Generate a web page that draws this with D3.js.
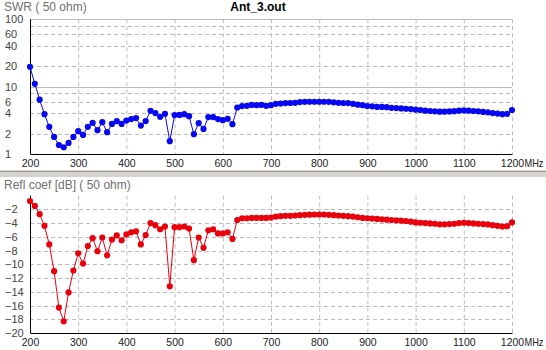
<!DOCTYPE html>
<html><head><meta charset="utf-8">
<script src="https://cdn.jsdelivr.net/npm/d3@7"></script>
<style>
body{margin:0;background:#fff;}
svg{display:block;font-family:"Liberation Sans",Arial,sans-serif;}
</style>
</head><body>
<svg id="c" width="546" height="350"></svg>
<script>
const chartTitle = "Ant_3.out";
const swrTitle = "SWR ( 50 ohm)";
const reflTitle = "Refl coef [dB] ( 50 ohm)";
const unitLabel = "MHz";

const freqMHz = [200,210,220,230,240,250,260,270,280,290,
  300,310,320,330,340,350,360,370,380,390,
  400,410,420,430,440,450,460,470,480,490,
  500,510,520,530,540,550,560,570,580,590,
  600,610,620,630,640,650,660,670,680,690,
  700,710,720,730,740,750,760,770,780,790,
  800,810,820,830,840,850,860,870,880,890,
  900,910,920,930,940,950,960,970,980,990,
  1000,1010,1020,1030,1040,1050,1060,1070,1080,1090,
  1100,1110,1120,1130,1140,1150,1160,1170,1180,1190,1200];

const swr = [19.7,11.0,6.4,3.9,2.53,1.79,1.36,1.26,1.46,1.79,
  2.18,1.92,2.53,2.90,2.26,2.97,2.11,2.80,3.08,2.80,
  3.14,3.30,3.41,2.64,3.08,4.38,4.05,3.57,3.95,1.55,
  3.78,3.80,3.90,3.65,1.97,2.87,2.36,3.53,3.53,3.30,
  3.18,3.33,2.77,4.90,5.15,5.20,5.35,5.30,5.35,5.20,
  5.30,5.55,5.60,5.70,5.72,5.75,5.90,5.95,5.97,5.97,
  5.97,5.97,5.95,5.85,5.75,5.72,5.70,5.55,5.40,5.30,
  5.15,5.10,5.00,5.00,4.95,4.85,4.80,4.75,4.70,4.65,
  4.55,4.50,4.40,4.35,4.30,4.25,4.25,4.28,4.32,4.40,
  4.43,4.40,4.35,4.30,4.22,4.15,4.05,3.98,3.90,3.95,4.50];

const reflDb = [-0.8,-1.5,-2.7,-4.4,-7.1,-11.0,-16.3,-18.3,-14.1,-10.9,
  -8.4,-9.9,-7.35,-6.2,-8.1,-6.1,-8.7,-6.4,-5.8,-6.5,
  -5.65,-5.35,-5.2,-7.1,-5.75,-4.0,-4.3,-4.9,-4.5,-13.2,
  -4.6,-4.6,-4.5,-4.8,-9.4,-6.1,-7.6,-5.05,-4.9,-5.5,
  -5.5,-5.35,-6.3,-3.55,-3.3,-3.3,-3.25,-3.25,-3.25,-3.25,
  -3.2,-3.05,-3.0,-2.95,-2.95,-2.9,-2.85,-2.8,-2.78,-2.75,
  -2.75,-2.75,-2.8,-2.85,-2.9,-2.95,-3.0,-3.05,-3.15,-3.25,
  -3.3,-3.35,-3.4,-3.45,-3.5,-3.55,-3.6,-3.65,-3.7,-3.8,
  -3.9,-3.95,-4.0,-4.05,-4.1,-4.18,-4.18,-4.15,-4.1,-4.0,
  -3.95,-4.0,-4.05,-4.1,-4.15,-4.2,-4.3,-4.4,-4.5,-4.45,-3.9];

const xTicks = [200,300,400,500,600,700,800,900,1000,1100,1200];
const swrTickLabels = [1,2,4,6,10,20,40,60,100];
const swrDashedGrid = [2,4,6,8,20,40,60,80];
const swrSolidGrid = [10,100];
const reflTicks = [-2,-4,-6,-8,-10,-12,-14,-16,-18,-20];

const svg = d3.select("#c");
const W = 546;

const x = d3.scaleLinear().domain([200,1200]).range([30,512]);
const yTop = d3.scaleLog().domain([1,100]).range([154,19.3]);
const yBot = d3.scaleLinear().domain([-20,0]).range([333,195.6]);

const gridColor = "#bcbcbc";
const dash = "4,3";

svg.append("rect").attr("x",0).attr("y",170).attr("width",W).attr("height",7).attr("fill","#d6d3ce");
svg.append("line").attr("x1",0).attr("x2",W).attr("y1",171.5).attr("y2",171.5).attr("stroke","#9a9a9a");

function panel(yScale, yTop0, yBottom, hDashed, hSolid, data, color, yTickVals, yFmt, titleText, titleY) {
  const g = svg.append("g");
  g.selectAll(".vg").data(xTicks.filter(d => d > 200)).join("line")
    .attr("x1", d => x(d) + 0.5).attr("x2", d => x(d) + 0.5)
    .attr("y1", yTop0).attr("y2", yBottom)
    .attr("stroke", gridColor).attr("stroke-dasharray", dash);
  g.selectAll(".hg").data(hDashed).join("line")
    .attr("x1", x(200)).attr("x2", x(1200))
    .attr("y1", d => Math.round(yScale(d)) + 0.5).attr("y2", d => Math.round(yScale(d)) + 0.5)
    .attr("stroke", gridColor).attr("stroke-dasharray", dash);
  g.selectAll(".hs").data(hSolid).join("line")
    .attr("x1", x(200)).attr("x2", x(1200))
    .attr("y1", d => Math.round(yScale(d)) + 0.5).attr("y2", d => Math.round(yScale(d)) + 0.5)
    .attr("stroke", gridColor);

  const ax = g.append("g").attr("transform", `translate(0,${yBottom})`)
    .call(d3.axisBottom(x).tickValues(xTicks).tickSize(0).tickPadding(6).tickFormat(d3.format("d")));
  ax.select(".domain").attr("stroke","#000");
  ax.selectAll("text").attr("font-size", 10.5).attr("fill", "#222")
    .attr("font-family","'Liberation Sans',Arial,sans-serif");
  const ay = g.append("g").attr("transform", `translate(${x(200)},0)`)
    .call(d3.axisLeft(yScale).tickValues(yTickVals).tickSize(0).tickFormat(yFmt));
  ay.select(".domain").remove();
  ay.selectAll("text").attr("x", 5 - x(200)).attr("text-anchor","start")
    .attr("font-size", 11).attr("fill", "#444")
    .attr("font-family","'Liberation Sans',Arial,sans-serif");
  g.append("line").attr("x1", x(200)+0.5).attr("x2", x(200)+0.5)
    .attr("y1", yTop0).attr("y2", yBottom).attr("stroke","#000");

  g.append("text").attr("x", x(1200) + 12.5).attr("y", yBottom + 6).attr("dy","0.71em")
    .attr("font-size", 10.5).attr("fill","#222")
    .attr("textLength", 19).attr("lengthAdjust","spacingAndGlyphs").text(unitLabel);

  g.append("text").attr("x", 4).attr("y", titleY).attr("font-size", 12)
    .attr("fill", "#707070").text(titleText);

  const pts = freqMHz.map((f,i) => [f, data[i]]);
  g.append("path").datum(pts)
    .attr("d", d3.line().x(d => x(d[0])).y(d => yScale(d[1])))
    .attr("fill","none").attr("stroke", color).attr("stroke-width", 1);
  g.selectAll(".pt").data(pts).join("circle")
    .attr("cx", d => x(d[0])).attr("cy", d => yScale(d[1])).attr("r", 3.1)
    .attr("fill", color);
}

panel(yTop, 19.3, 154, swrDashedGrid, swrSolidGrid, swr, "#0808f0",
  swrTickLabels, d3.format("d"), swrTitle, 11);
panel(yBot, 195.6, 333, reflTicks.filter(d => d > -20), [], reflDb, "#e8000c",
  reflTicks, d3.format("d"), reflTitle, 189);

svg.append("text").attr("x", 258).attr("y", 11).attr("text-anchor","middle")
  .attr("font-size", 12).attr("font-weight","bold").attr("fill","#000").text(chartTitle);
</script>
</body></html>
